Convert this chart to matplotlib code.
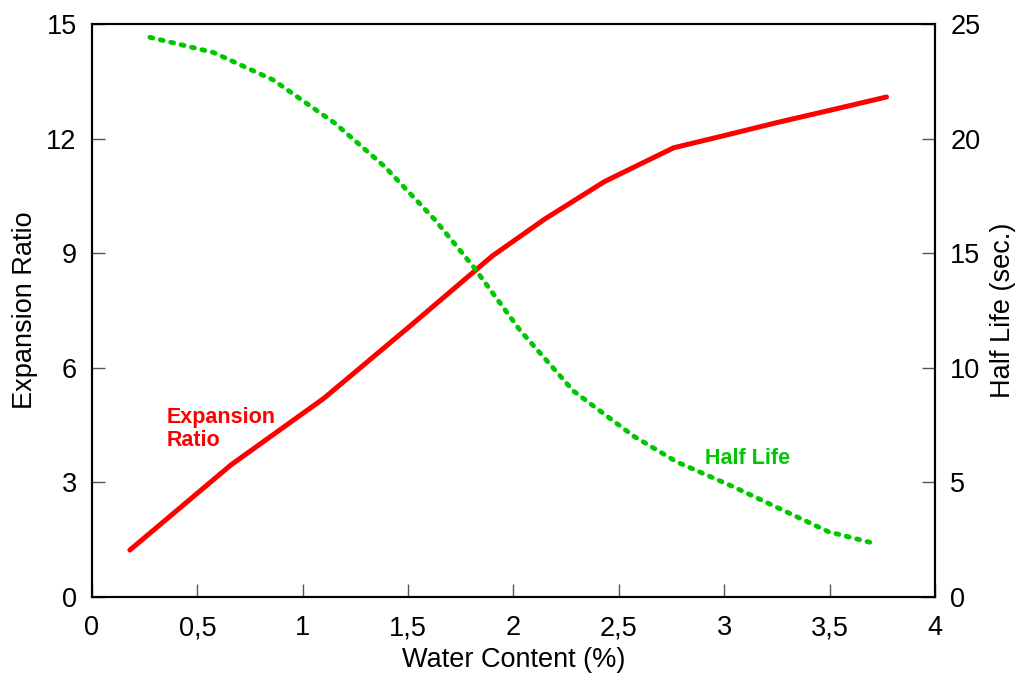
import matplotlib
matplotlib.use("Agg")
import matplotlib.pyplot as plt
from matplotlib.ticker import FixedLocator, FixedFormatter

plt.rcParams['font.family'] = ['Liberation Sans', 'DejaVu Sans']

# Data
water_red = [0.18, 0.66, 1.10, 1.50, 1.90, 2.15, 2.43, 2.60, 2.76, 3.00, 3.25, 3.50, 3.77]
expansion_ratio = [1.23, 3.46, 5.20, 7.05, 8.93, 9.90, 10.87, 11.33, 11.76, 12.08, 12.42, 12.74, 13.09]

water_green = [0.275, 0.576, 0.86, 1.153, 1.39, 1.628, 1.81, 2.03, 2.284, 2.57, 2.774, 3.043, 3.31, 3.494, 3.69]
half_life = [24.42, 23.76, 22.56, 20.67, 18.77, 16.45, 14.41, 11.65, 8.99, 7.02, 5.90, 4.81, 3.65, 2.85, 2.39]

x_ticks = [0, 0.5, 1, 1.5, 2, 2.5, 3, 3.5, 4]
x_tick_labels = ['0', '0,5', '1', '1,5', '2', '2,5', '3', '3,5', '4']
left_ticks = [0, 3, 6, 9, 12, 15]
right_ticks = [0, 5, 10, 15, 20, 25]

RED = '#FF0000'
GREEN = '#00C800'

fig = plt.figure(figsize=(10.15, 6.73), dpi=100)
ax = fig.add_axes([0.0906, 0.1129, 0.9212 - 0.0906, 0.9643 - 0.1129])
ax2 = ax.twinx()

ax.plot(water_red, expansion_ratio, color=RED, lw=3.6, solid_capstyle='round', zorder=3)
ax2.plot(water_green, half_life, color=GREEN, lw=3.5, linestyle=(0, (0.6, 1.6)),
         dash_capstyle='round')

ax.set_xlim(0, 4)
ax.set_ylim(0, 15)
ax2.set_ylim(0, 25)

ax.xaxis.set_major_locator(FixedLocator(x_ticks))
ax.xaxis.set_major_formatter(FixedFormatter(x_tick_labels))
ax.set_yticks(left_ticks)
ax2.set_yticks(right_ticks)

for a in (ax, ax2):
    for s in a.spines.values():
        s.set_linewidth(1.5)
        s.set_color('black')

ax.tick_params(axis='both', direction='in', length=9.5, width=1.0, color='#555555',
               labelsize=19.5, pad=11)
ax.tick_params(axis='x', pad=13)
ax2.tick_params(axis='y', direction='in', length=9.5, width=1.0, color='#555555',
                labelsize=19.5, pad=11)

ax.set_xlabel('Water Content (%)', fontsize=19.5, labelpad=4.5)
ax.set_ylabel('Expansion Ratio', fontsize=19.5, labelpad=6)
ax2.set_ylabel('Half Life (sec.)', fontsize=19.5, labelpad=6.5)

ax.text(0.355, 4.40, 'Expansion\nRatio', color=RED, fontsize=15.5, fontweight='bold',
        ha='left', va='center', linespacing=1.13)
ax2.text(2.91, 6.05, 'Half Life', color=GREEN, fontsize=15.5, fontweight='bold',
         ha='left', va='center')

fig.savefig('out.png', dpi=100)
